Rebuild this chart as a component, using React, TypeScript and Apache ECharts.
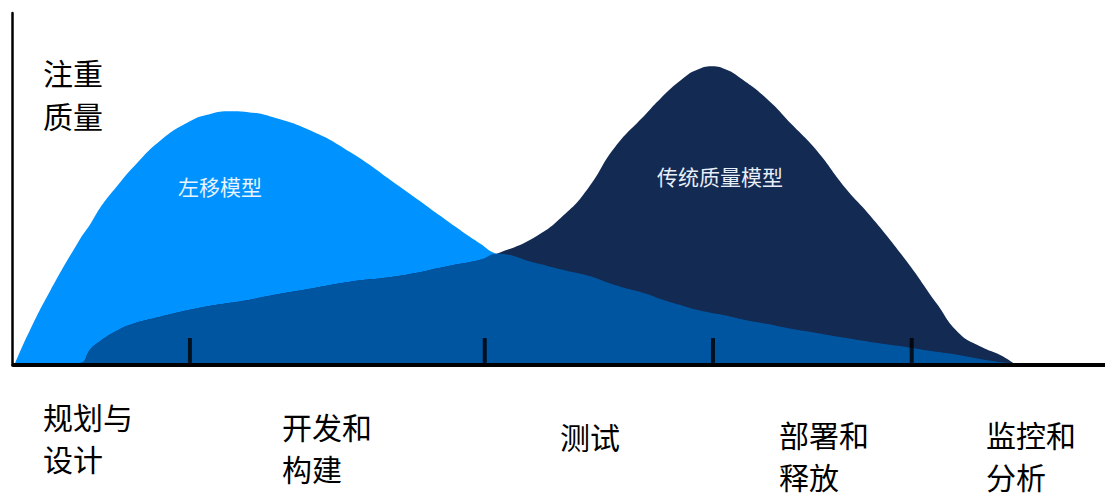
import React, { useEffect, useRef } from 'react';
import * as echarts from 'echarts';

// Position along the delivery lifecycle (0–100 % of the axis)
const xPos = [0.2, 1.6, 3.4, 6.1, 7.1, 8.0, 9.5, 11.0, 13.5, 16.2, 18.0, 19.9, 21.7, 23.5, 27.2, 30.9, 35.4, 40.0, 42.8, 44.3, 47.7, 50.6, 52.7, 55.1, 58.0, 59.3, 61.4, 62.6, 64.0, 65.4, 66.6, 69.0, 71.4, 73.6, 76.2, 78.5, 81.8, 84.6, 86.6, 88.7, 90.4, 91.6];
// Quality focus of the shift-left model
const shiftLeft = [0, 9.7, 20.6, 35.2, 39.8, 44.4, 50.4, 55.9, 63.6, 69.1, 71.1, 71.9, 71.6, 70.5, 66.5, 60.2, 50.4, 40.1, 34.1, 31.2, 28.7, 26.4, 24.9, 22.3, 19.8, 18.3, 16.3, 15.2, 14.3, 13.5, 12.6, 11.2, 9.7, 8.6, 7.2, 6.0, 4.6, 3.2, 2.3, 1.1, 0.3, 0];
// Quality focus of the traditional model
const traditional = [0, 0, 0, 0, 4.0, 6.3, 9.2, 11.2, 13.2, 15.2, 16.3, 17.2, 18.1, 19.2, 21.2, 23.2, 24.9, 27.8, 29.5, 31.2, 35.8, 42.7, 50.1, 61.6, 71.3, 75.6, 81.4, 83.7, 84.8, 83.7, 81.4, 75.6, 67.9, 60.7, 50.1, 42.1, 29.2, 16.9, 8.6, 4.6, 2.3, 0];
// Stage boundaries (tick marks on the x axis)
const stageBoundaries = [16.2, 43.2, 64.1, 82.3];
// Stage labels
const stageLabels = ['规划与\n设计', '开发和\n构建', '测试', '部署和\n释放', '监控和\n分析'];
const yTitle = '注重\n质量';
const seriesNames = ['左移模型', '传统质量模型'];

const FONT = '"Noto Sans CJK SC", "Noto Sans", sans-serif';

const App = () => {
  const ref = useRef<HTMLDivElement>(null);
  useEffect(() => {
    if (!ref.current) return;
    const chart = echarts.init(ref.current, null, { renderer: 'svg' });
    const lightData = xPos.map((x, i) => [x, shiftLeft[i]]);
    const darkData = xPos.map((x, i) => [x, traditional[i]]);
    const overlapData = xPos.map((x, i) => [x, Math.min(shiftLeft[i], traditional[i])]);
    const labelLeft = [43, 282, 560, 779, 986];
    const labelTop = [395, 405, 415, 413, 413];
    const area = (name: string, data: number[][], color: string, z: number) => ({
      name,
      type: 'line',
      data,
      smooth: 0.5,
      symbol: 'none',
      lineStyle: { width: 0 },
      areaStyle: { color, opacity: 1 },
      z,
    });
    chart.setOption({
      animation: false,
      backgroundColor: '#ffffff',
      grid: { left: 13, right: 0, top: 13, bottom: 134 },
      xAxis: {
        type: 'value',
        min: 0,
        max: 100,
        axisLine: { show: true, onZero: false, lineStyle: { color: '#000', width: 4 } },
        offset: 2,
        axisTick: { show: false },
        axisLabel: { show: false },
        splitLine: { show: false },
      },
      yAxis: {
        type: 'value',
        min: 0,
        max: 100,
        offset: 1,
        axisLine: { show: true, onZero: false, lineStyle: { color: '#000', width: 2.5 } },
        axisTick: { show: false },
        axisLabel: { show: false },
        splitLine: { show: false },
      },
      series: [
        area(seriesNames[0], lightData, '#0092fe', 1),
        area(seriesNames[1], darkData, '#132a52', 2),
        area('overlap', overlapData, '#0055a1', 3),
        {
          name: 'ticks',
          type: 'scatter',
          data: stageBoundaries.map((x) => [x, 0]),
          symbol: 'rect',
          symbolSize: [4, 25],
          symbolOffset: [0, -12.5],
          itemStyle: { color: '#000' },
          z: 5,
          silent: true,
        },
      ],
      graphic: [
        {
          type: 'text',
          left: 43,
          top: 50,
          style: { text: yTitle, font: `30px ${FONT}`, lineHeight: 43, fill: '#000' },
        },
        {
          type: 'text',
          x: 220,
          y: 186,
          style: { text: seriesNames[0], font: `21px ${FONT}`, fill: '#e8f4ff', align: 'center', verticalAlign: 'middle' },
          z: 10,
        },
        {
          type: 'text',
          x: 720,
          y: 176,
          style: { text: seriesNames[1], font: `21px ${FONT}`, fill: '#e8eef8', align: 'center', verticalAlign: 'middle' },
          z: 10,
        },
        ...stageLabels.map((t, i) => ({
          type: 'text',
          left: labelLeft[i],
          top: labelTop[i],
          style: { text: t, font: `30px ${FONT}`, lineHeight: 42, fill: '#000' },
        })),
      ],
    });
    return () => chart.dispose();
  }, []);
  return <div ref={ref} style={{ position: 'fixed', left: 0, top: 0, width: 1105, height: 497 }} />;
};

export default App;
